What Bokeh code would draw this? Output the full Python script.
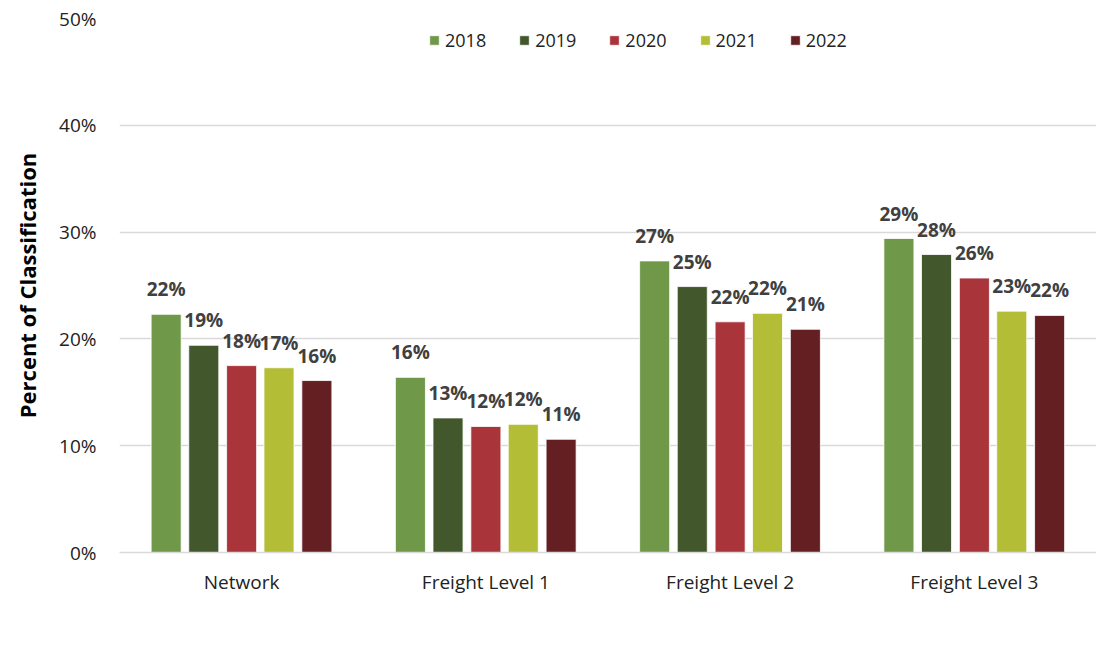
from bokeh.plotting import figure
from bokeh.models import ColumnDataSource, Range1d, FactorRange, FixedTicker, CustomJSTickFormatter, LabelSet
from bokeh.core.properties import value
from bokeh.transform import dodge
from bokeh.embed import file_html
from bokeh.resources import INLINE

categories = ["Network", "Freight Level 1", "Freight Level 2", "Freight Level 3"]
years = ["2018", "2019", "2020", "2021", "2022"]
v2018 = [22.3, 16.4, 27.3, 29.4]
v2019 = [19.4, 12.6, 24.9, 27.9]
v2020 = [17.5, 11.8, 21.6, 25.7]
v2021 = [17.3, 12.0, 22.4, 22.6]
v2022 = [16.1, 10.6, 20.9, 22.2]
y_ticks = [0, 10, 20, 30, 40, 50]

series = [v2018, v2019, v2020, v2021, v2022]
colors = ["#709849", "#42582C", "#A9343A", "#B4BD36", "#641F23"]
offsets = [-0.309, -0.155, 0.0, 0.153, 0.308]

FONT = "Open Sans"
TXT = "#222222"

p = figure(x_range=FactorRange(factors=categories, range_padding=0),
           y_range=Range1d(0, 50), width=1096, height=658,
           output_backend="svg", toolbar_location=None,
           min_border_left=119, min_border_right=0,
           min_border_top=18, min_border_bottom=106)

for yr, vals, col, off in zip(years, series, colors, offsets):
    src = ColumnDataSource(dict(cat=categories, val=vals,
                                lab=[f"{int(v + 0.5)}%" for v in vals]))
    p.vbar(x=dodge("cat", off, range=p.x_range), top="val", width=0.123,
           source=src, fill_color=col, line_color="white", line_width=0.8,
           legend_label=yr)
    p.add_layout(LabelSet(x=dodge("cat", off, range=p.x_range), y="val", text="lab",
                          source=src, text_align="center", text_baseline="middle",
                          y_offset=25, text_font=value(FONT), text_font_style="bold",
                          text_font_size="19px", text_color="#404040"))

p.outline_line_color = None
p.xgrid.grid_line_color = None
p.ygrid.grid_line_color = "#d9d9d9"
p.ygrid.grid_line_width = 1.5

p.yaxis.ticker = FixedTicker(ticks=y_ticks)
p.yaxis.formatter = CustomJSTickFormatter(code="return tick.toFixed(0) + '%';")
p.yaxis.axis_line_color = None
p.yaxis.major_tick_line_color = None
p.yaxis.minor_tick_line_color = None
p.yaxis.major_tick_out = 0
p.yaxis.major_label_standoff = 23
p.yaxis.major_label_text_font = FONT
p.yaxis.major_label_text_font_size = "19px"
p.yaxis.major_label_text_color = TXT
p.yaxis.axis_label = "Percent of Classification"
p.yaxis.axis_label_text_font = FONT
p.yaxis.axis_label_text_font_style = "bold"
p.yaxis.axis_label_text_font_size = "22px"
p.yaxis.axis_label_text_color = "#000000"
p.yaxis.axis_label_standoff = 14

p.xaxis.axis_line_color = "#d9d9d9"
p.xaxis.axis_line_width = 1.5
p.xaxis.major_tick_line_color = None
p.xaxis.minor_tick_line_color = None
p.xaxis.major_tick_out = 0
p.xaxis.major_label_standoff = 16
p.xaxis.major_label_text_font = FONT
p.xaxis.major_label_text_font_size = "19px"
p.xaxis.major_label_text_color = TXT

lg = p.legend[0]
lg.orientation = "horizontal"
lg.location = (309, 500)
lg.background_fill_color = "white"
lg.background_fill_alpha = 1
lg.border_line_color = None
lg.padding = 2
lg.margin = 0
lg.spacing = 32
lg.glyph_width = 12
lg.glyph_height = 12
lg.label_standoff = 5
lg.label_height = 18
lg.label_text_font = FONT
lg.label_text_font_size = "18px"
lg.label_text_color = TXT

open("out.html", "w").write(file_html(p, INLINE))
